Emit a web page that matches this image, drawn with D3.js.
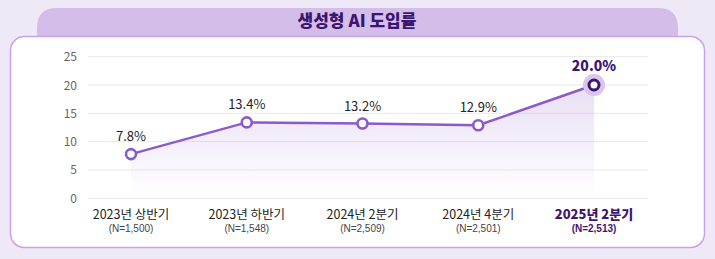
<!DOCTYPE html>
<html><head><meta charset="utf-8">
<script src="https://cdn.jsdelivr.net/npm/d3@7"></script>
<style>
html,body{margin:0;padding:0;background:#efe8f6;}
svg{display:block;font-family:"Noto Sans CJK KR","Noto Sans",sans-serif;}
</style></head>
<body>
<svg id="c" width="715" height="259"></svg>
<script>
const title = "생성형 AI 도입률";
const categories = ["2023년 상반기","2023년 하반기","2024년 2분기","2024년 4분기","2025년 2분기"];
const sampleSizes = ["(N=1,500)","(N=1,548)","(N=2,509)","(N=2,501)","(N=2,513)"];
const values = [7.8, 13.4, 13.2, 12.9, 20.0];
const yTicks = [0, 5, 10, 15, 20, 25];

const svg = d3.select("#c");
const W = 715, H = 259;
svg.append("rect").attr("width", W).attr("height", H).attr("fill", "#efe8f6");

// title tab
svg.append("path")
  .attr("d", "M37,46 L37,28 Q37,8 57,8 L658,8 Q678,8 678,28 L678,46 Z")
  .attr("fill", "#d4bee9");
// panel
svg.append("rect").attr("x", 10.5).attr("y", 36.5).attr("width", 694).attr("height", 211)
  .attr("rx", 14).attr("fill", "#ffffff").attr("stroke", "#c7a3e6").attr("stroke-width", 1.5);
svg.append("text").attr("x", 357).attr("y", 27).attr("text-anchor", "middle")
  .attr("font-size", 17).attr("font-weight", 800).attr("fill", "#3a1670").text(title);

const x = d3.scalePoint().domain(categories).range([131, 594]).padding(0);
const y = d3.scaleLinear().domain([0, 25]).range([198.3, 56.7]);

// grid
svg.append("g").selectAll("line").data(yTicks).join("line")
  .attr("x1", 88).attr("x2", 648)
  .attr("y1", d => y(d)).attr("y2", d => y(d))
  .attr("stroke", "#e8e8e8").attr("stroke-width", 1);
svg.append("g").selectAll("text").data(yTicks).join("text")
  .attr("x", 77).attr("y", d => y(d) + 4.5).attr("text-anchor", "end")
  .attr("font-size", 12).attr("fill", "#666").text(d => d);

// area gradient
const defs = svg.append("defs");
const g = defs.append("linearGradient").attr("id", "ag").attr("x1", 0).attr("y1", 0).attr("x2", 0).attr("y2", 1);
g.append("stop").attr("offset", "0%").attr("stop-color", "#b692dd").attr("stop-opacity", 0.3);
g.append("stop").attr("offset", "100%").attr("stop-color", "#b692dd").attr("stop-opacity", 0);

const data = categories.map((c, i) => ({c, v: values[i], n: sampleSizes[i], i}));
svg.append("path").datum(data)
  .attr("d", d3.area().x(d => x(d.c)).y0(y(0)).y1(d => y(d.v)))
  .attr("fill", "url(#ag)");
svg.append("path").datum(data)
  .attr("d", d3.line().x(d => x(d.c)).y(d => y(d.v)))
  .attr("fill", "none").attr("stroke", "#8b5bcb").attr("stroke-width", 2.5);

const last = data.length - 1;
svg.append("circle").attr("cx", x(data[last].c)).attr("cy", y(data[last].v)).attr("r", 11)
  .attr("fill", "#d8c6eb");
svg.append("g").selectAll("circle").data(data).join("circle")
  .attr("cx", d => x(d.c)).attr("cy", d => y(d.v)).attr("r", 5)
  .attr("fill", "#fff")
  .attr("stroke", d => d.i === last ? "#3d1670" : "#8b5bcb")
  .attr("stroke-width", d => d.i === last ? 3 : 2.6);

// value labels
svg.append("g").selectAll("text").data(data).join("text")
  .attr("x", d => x(d.c)).attr("y", d => y(d.v) - (d.i === last ? 14 : 13))
  .attr("text-anchor", "middle")
  .attr("font-size", d => d.i === last ? 14 : 13)
  .attr("font-weight", d => d.i === last ? 800 : 400)
  .attr("fill", d => d.i === last ? "#3d1670" : "#222")
  .text(d => d.v.toFixed(1) + "%");

// x labels
svg.append("g").selectAll("text").data(data).join("text")
  .attr("x", d => x(d.c)).attr("y", 218.5).attr("text-anchor", "middle")
  .attr("font-size", d => d.i === last ? 13 : 12.5)
  .attr("font-weight", d => d.i === last ? 800 : 400)
  .attr("fill", d => d.i === last ? "#3d1670" : "#222")
  .text(d => d.c);
svg.append("g").selectAll("text").data(data).join("text")
  .attr("x", d => x(d.c)).attr("y", 231.5).attr("text-anchor", "middle")
  .attr("font-family", "'Liberation Sans', Arial, sans-serif")
  .attr("font-size", 10)
  .attr("font-weight", d => d.i === last ? 700 : 400)
  .attr("fill", d => d.i === last ? "#3d1670" : "#444")
  .text(d => d.n);
</script>
</body></html>
